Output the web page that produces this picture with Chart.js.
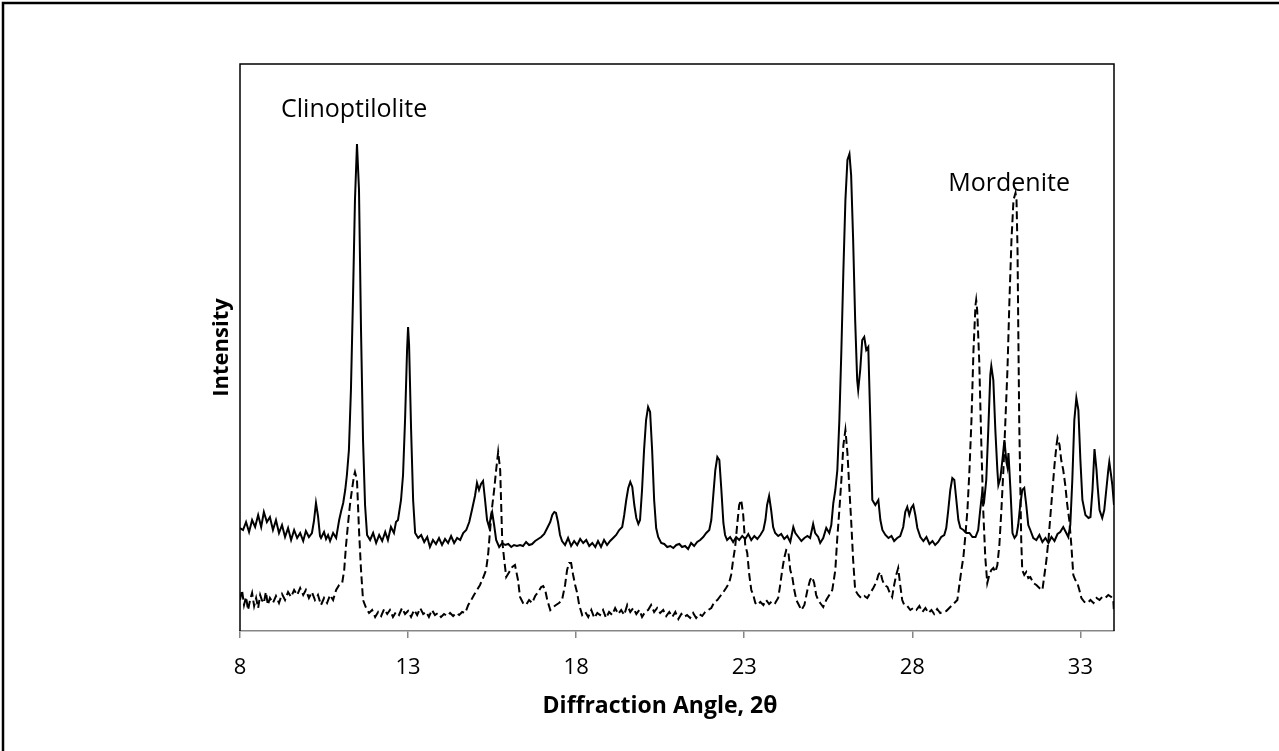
<!DOCTYPE html>
<html>
<head>
<meta charset="utf-8">
<script src="https://cdn.jsdelivr.net/npm/chart.js@4.4.1/dist/chart.umd.min.js"></script>
<style>
  html, body { margin: 0; padding: 0; background: #fff; overflow: hidden; }
  canvas { display: block; }
</style>
</head>
<body>
<canvas id="c" width="1279" height="751"></canvas>
<script>
// ---- data: [diffraction angle 2θ, intensity (arbitrary units)] ----
const clinoptiloliteData = [
[8.00,103],[8.09,101],[8.18,109],[8.27,99],[8.36,111],[8.45,104],[8.54,116],[8.63,104],[8.71,119],[8.80,109],[8.89,114],[8.98,101],[9.07,111],[9.16,98],[9.25,106],[9.34,94],[9.43,103],[9.52,91],[9.61,101],[9.70,93],[9.79,98],[9.88,90],[9.96,100],[10.05,94],[10.14,98],[10.20,110],[10.26,128],[10.32,115],[10.38,95],[10.41,93],[10.50,99],[10.56,92],[10.62,96],[10.68,90],[10.77,98],[10.86,93],[10.95,111],[11.01,120],[11.07,128],[11.13,141],[11.18,156],[11.24,181],[11.30,241],[11.36,331],[11.42,431],[11.48,487],[11.54,441],[11.60,301],[11.66,191],[11.72,126],[11.78,96],[11.87,91],[11.96,98],[12.05,88],[12.14,96],[12.23,90],[12.32,99],[12.40,91],[12.49,104],[12.58,98],[12.64,109],[12.70,111],[12.79,131],[12.85,156],[12.91,211],[12.97,281],[13.00,304],[13.03,286],[13.09,201],[13.15,131],[13.21,98],[13.30,93],[13.39,96],[13.48,89],[13.57,94],[13.65,84],[13.74,91],[13.83,87],[13.92,93],[14.01,86],[14.10,92],[14.19,88],[14.28,95],[14.37,88],[14.46,93],[14.55,91],[14.64,98],[14.73,101],[14.82,109],[14.90,121],[14.99,135],[15.05,148],[15.11,141],[15.17,147],[15.23,150],[15.29,131],[15.35,111],[15.41,104],[15.47,116],[15.50,119],[15.56,106],[15.62,91],[15.71,84],[15.80,88],[15.89,86],[15.98,87],[16.07,84],[16.15,86],[16.24,85],[16.33,86],[16.42,85],[16.51,89],[16.60,86],[16.69,87],[16.78,90],[16.87,92],[16.96,94],[17.05,97],[17.14,103],[17.23,109],[17.29,116],[17.35,119],[17.40,118],[17.46,109],[17.52,96],[17.58,90],[17.67,86],[17.76,93],[17.85,85],[17.94,90],[18.03,86],[18.12,92],[18.21,88],[18.30,91],[18.39,85],[18.48,88],[18.57,84],[18.65,90],[18.74,84],[18.83,91],[18.92,86],[19.01,90],[19.10,93],[19.19,96],[19.28,101],[19.37,104],[19.43,116],[19.49,131],[19.55,143],[19.61,149],[19.67,144],[19.73,126],[19.79,113],[19.85,107],[19.90,111],[19.96,141],[20.02,181],[20.08,211],[20.14,224],[20.20,219],[20.26,181],[20.32,131],[20.38,103],[20.44,94],[20.53,88],[20.62,87],[20.71,84],[20.80,85],[20.89,83],[20.98,86],[21.07,87],[21.15,84],[21.24,85],[21.33,82],[21.42,88],[21.51,85],[21.60,89],[21.69,91],[21.78,94],[21.87,98],[21.96,101],[22.02,111],[22.08,136],[22.14,161],[22.20,174],[22.26,171],[22.32,141],[22.38,108],[22.43,96],[22.49,91],[22.58,94],[22.67,89],[22.76,94],[22.85,91],[22.94,95],[23.03,92],[23.12,97],[23.21,91],[23.30,95],[23.39,92],[23.48,96],[23.57,101],[23.63,111],[23.68,126],[23.74,135],[23.80,121],[23.86,104],[23.92,98],[24.01,95],[24.10,97],[24.19,92],[24.28,95],[24.37,89],[24.46,104],[24.52,98],[24.61,94],[24.70,90],[24.79,93],[24.88,95],[24.96,93],[25.05,107],[25.11,98],[25.20,94],[25.26,88],[25.35,93],[25.44,103],[25.53,98],[25.59,106],[25.65,128],[25.71,141],[25.77,161],[25.83,211],[25.89,281],[25.95,361],[26.01,431],[26.07,471],[26.13,477],[26.18,456],[26.24,391],[26.30,311],[26.36,251],[26.39,241],[26.45,261],[26.51,291],[26.57,294],[26.63,281],[26.69,284],[26.75,211],[26.81,131],[26.90,126],[26.99,131],[27.05,111],[27.11,101],[27.20,96],[27.29,93],[27.38,95],[27.46,90],[27.55,93],[27.64,95],[27.73,104],[27.79,119],[27.85,124],[27.91,116],[27.97,123],[28.03,126],[28.09,116],[28.15,103],[28.24,94],[28.33,90],[28.42,94],[28.51,87],[28.60,90],[28.68,86],[28.77,89],[28.86,94],[28.95,96],[29.01,103],[29.07,121],[29.13,141],[29.19,153],[29.25,151],[29.31,131],[29.37,111],[29.43,103],[29.52,101],[29.61,98],[29.70,98],[29.79,94],[29.88,94],[29.96,101],[30.02,121],[30.08,139],[30.14,131],[30.20,151],[30.26,201],[30.32,256],[30.35,265],[30.41,251],[30.47,201],[30.53,161],[30.56,146],[30.62,153],[30.68,171],[30.74,191],[30.80,169],[30.83,164],[30.86,178],[30.92,141],[30.98,98],[31.04,93],[31.10,96],[31.15,106],[31.21,126],[31.27,141],[31.33,143],[31.39,126],[31.45,106],[31.51,101],[31.60,93],[31.69,91],[31.78,96],[31.87,89],[31.96,93],[32.05,88],[32.14,94],[32.23,90],[32.32,97],[32.40,99],[32.49,104],[32.58,98],[32.64,94],[32.70,106],[32.76,151],[32.82,211],[32.88,233],[32.94,221],[33.00,171],[33.06,131],[33.15,116],[33.24,113],[33.30,114],[33.36,141],[33.42,182],[33.48,161],[33.51,146],[33.57,121],[33.65,113],[33.71,121],[33.77,141],[33.83,161],[33.86,169],[33.92,154],[33.95,146],[34.00,126]
];

const mordeniteData = [
[8.00,31],[8.06,41],[8.12,26],[8.18,34],[8.24,21],[8.30,31],[8.36,38],[8.42,25],[8.48,33],[8.54,23],[8.60,36],[8.65,31],[8.71,28],[8.77,39],[8.83,26],[8.89,33],[8.98,28],[9.07,35],[9.16,28],[9.25,37],[9.34,31],[9.43,39],[9.52,34],[9.61,41],[9.70,36],[9.79,43],[9.88,36],[9.96,41],[10.05,33],[10.14,39],[10.23,31],[10.32,36],[10.41,26],[10.50,33],[10.59,28],[10.68,36],[10.77,31],[10.86,41],[10.95,46],[11.04,48],[11.10,61],[11.15,84],[11.21,106],[11.27,126],[11.33,141],[11.39,155],[11.42,159],[11.48,151],[11.54,101],[11.60,61],[11.66,31],[11.75,23],[11.84,18],[11.93,21],[12.02,14],[12.11,19],[12.20,15],[12.29,22],[12.38,17],[12.46,21],[12.55,14],[12.64,19],[12.73,16],[12.82,23],[12.91,17],[13.00,20],[13.09,14],[13.18,21],[13.27,16],[13.36,23],[13.45,17],[13.54,19],[13.62,14],[13.71,21],[13.80,16],[13.89,18],[13.98,14],[14.07,17],[14.16,15],[14.25,18],[14.34,15],[14.43,18],[14.52,16],[14.61,19],[14.70,18],[14.79,26],[14.88,31],[14.96,36],[15.05,41],[15.14,46],[15.23,53],[15.32,61],[15.38,76],[15.44,101],[15.50,124],[15.56,141],[15.62,161],[15.68,179],[15.74,161],[15.80,91],[15.86,71],[15.92,54],[16.01,59],[16.10,64],[16.18,66],[16.27,51],[16.33,34],[16.42,28],[16.51,26],[16.60,31],[16.69,28],[16.78,35],[16.87,39],[16.96,44],[17.02,45],[17.08,41],[17.14,31],[17.23,21],[17.32,24],[17.40,26],[17.49,28],[17.58,31],[17.67,46],[17.73,61],[17.79,68],[17.85,68],[17.91,56],[17.97,46],[18.03,38],[18.09,26],[18.18,16],[18.27,19],[18.36,14],[18.45,21],[18.54,13],[18.63,18],[18.71,16],[18.80,21],[18.89,13],[18.98,19],[19.07,16],[19.16,23],[19.25,17],[19.34,21],[19.43,16],[19.52,26],[19.61,19],[19.70,23],[19.79,17],[19.88,21],[19.96,14],[20.05,19],[20.14,21],[20.23,26],[20.32,19],[20.41,23],[20.50,18],[20.59,21],[20.68,15],[20.77,19],[20.86,14],[20.95,19],[21.04,12],[21.13,17],[21.21,14],[21.30,16],[21.39,13],[21.48,18],[21.57,13],[21.66,17],[21.75,15],[21.84,19],[21.93,21],[22.02,23],[22.11,29],[22.20,31],[22.29,35],[22.38,39],[22.46,43],[22.55,48],[22.61,56],[22.67,71],[22.73,84],[22.79,106],[22.85,126],[22.91,131],[22.97,116],[23.03,86],[23.09,78],[23.15,56],[23.21,41],[23.27,36],[23.33,28],[23.39,26],[23.48,29],[23.57,26],[23.65,31],[23.74,27],[23.83,30],[23.92,28],[24.01,33],[24.07,46],[24.13,61],[24.19,73],[24.25,81],[24.31,80],[24.37,61],[24.43,54],[24.49,41],[24.55,31],[24.61,27],[24.70,21],[24.79,26],[24.88,41],[24.96,51],[25.02,54],[25.08,48],[25.14,36],[25.20,31],[25.26,28],[25.35,24],[25.44,31],[25.53,36],[25.62,41],[25.71,61],[25.77,94],[25.83,121],[25.89,151],[25.95,186],[26.01,201],[26.07,178],[26.13,141],[26.18,111],[26.24,71],[26.30,41],[26.39,36],[26.48,33],[26.57,35],[26.66,33],[26.75,38],[26.84,43],[26.93,49],[26.99,56],[27.05,59],[27.11,51],[27.17,46],[27.26,44],[27.32,39],[27.40,34],[27.46,46],[27.52,56],[27.58,63],[27.64,46],[27.70,31],[27.76,26],[27.85,25],[27.94,21],[28.03,23],[28.12,21],[28.21,25],[28.30,19],[28.39,23],[28.48,18],[28.57,21],[28.65,17],[28.74,22],[28.83,18],[28.92,19],[29.01,20],[29.10,23],[29.19,26],[29.28,29],[29.34,31],[29.40,46],[29.46,61],[29.52,74],[29.58,96],[29.64,121],[29.70,161],[29.76,211],[29.82,281],[29.88,326],[29.90,331],[29.93,321],[29.99,271],[30.05,191],[30.11,121],[30.17,74],[30.23,48],[30.29,56],[30.35,61],[30.41,63],[30.47,59],[30.53,66],[30.59,86],[30.65,121],[30.71,161],[30.77,211],[30.83,261],[30.89,331],[30.95,391],[31.01,431],[31.07,438],[31.10,431],[31.13,381],[31.15,311],[31.18,211],[31.21,151],[31.24,91],[31.27,61],[31.33,56],[31.39,59],[31.45,53],[31.51,54],[31.60,48],[31.69,46],[31.78,43],[31.87,41],[31.93,56],[31.99,71],[32.05,91],[32.11,116],[32.17,141],[32.23,166],[32.29,186],[32.32,193],[32.38,186],[32.43,171],[32.49,161],[32.55,146],[32.61,126],[32.67,111],[32.73,86],[32.79,56],[32.85,51],[32.91,48],[32.97,41],[33.03,33],[33.12,29],[33.21,28],[33.30,31],[33.39,28],[33.48,33],[33.57,31],[33.65,34],[33.74,33],[33.83,36],[33.92,34],[33.98,31],[34.00,18]
];

const tickValues = [8, 13, 18, 23, 28, 33];
const xAxisTitle = 'Diffraction Angle, 2θ';
const yAxisTitle = 'Intensity';
const peakLabels = ['Clinoptilolite', 'Mordenite'];
const peakLabelAngles = [9.22, 29.07];
const peakLabelIntensities = [514, 440];

Chart.defaults.font.family = "'Open Sans', 'DejaVu Sans', sans-serif";
Chart.defaults.color = '#000';

const framePlugin = {
  id: 'frame',
  afterDraw(chart) {
    const {ctx, chartArea: a} = chart;
    ctx.save();
    ctx.strokeStyle = '#000';
    ctx.lineWidth = 1.5;
    ctx.beginPath();
    ctx.moveTo(a.left, a.bottom);
    ctx.lineTo(a.left, a.top);
    ctx.lineTo(a.right, a.top);
    ctx.lineTo(a.right, a.bottom);
    ctx.stroke();
    // outer figure border (left and top visible)
    ctx.lineWidth = 2.5;
    ctx.strokeRect(3, 3, chart.width + 20, chart.height + 20);
    // x axis title, centred as in the original figure
    ctx.fillStyle = '#000';
    ctx.font = "bold 23px 'Open Sans', sans-serif";
    ctx.textAlign = 'center';
    ctx.textBaseline = 'middle';
    ctx.fillText(xAxisTitle, 660, 706);
    ctx.restore();
  }
};

const labelPlugin = {
  id: 'peakLabels',
  afterDraw(chart) {
    const {ctx, scales: {x, y}} = chart;
    ctx.save();
    ctx.fillStyle = '#000';
    ctx.font = "25px 'Open Sans', sans-serif";
    ctx.textAlign = 'left';
    ctx.textBaseline = 'alphabetic';
    peakLabels.forEach((t, i) => {
      ctx.fillText(t, x.getPixelForValue(peakLabelAngles[i]), y.getPixelForValue(peakLabelIntensities[i]));
    });
    ctx.restore();
  }
};

new Chart(document.getElementById('c'), {
  type: 'line',
  data: {
    datasets: [
      {
        label: 'Mordenite',
        data: mordeniteData.map(([x, y]) => ({x, y})),
        borderColor: '#000',
        borderWidth: 2,
        borderDash: [8, 4],
        pointRadius: 0,
        fill: false,
        tension: 0
      },
      {
        label: 'Clinoptilolite',
        data: clinoptiloliteData.map(([x, y]) => ({x, y})),
        borderColor: '#000',
        borderWidth: 2,
        pointRadius: 0,
        fill: false,
        tension: 0
      }
    ]
  },
  options: {
    responsive: false,
    animation: false,
    devicePixelRatio: 1,
    parsing: false,
    layout: { padding: { left: 0, top: 64, right: 165, bottom: 0 } },
    plugins: { legend: { display: false }, tooltip: { enabled: false } },
    scales: {
      x: {
        type: 'linear',
        min: 8,
        max: 34,
        afterBuildTicks: s => { s.ticks = tickValues.map(v => ({value: v})); },
        afterFit: s => { s.height = 120; },
        grid: { display: true, drawOnChartArea: false, drawTicks: true, tickLength: 7, color: '#868686', lineWidth: 1.5 },
        border: { display: true, color: '#868686', width: 1.5 },
        ticks: { color: '#000', font: { size: 22 }, padding: 17, maxRotation: 0, autoSkip: false },
        title: { display: false }
      },
      y: {
        type: 'linear',
        min: 0,
        max: 567,
        afterFit: s => { s.width = 240; },
        ticks: { display: false },
        grid: { display: false },
        border: { display: false },
        title: { display: true, text: yAxisTitle, color: '#000', font: { size: 22, weight: 'bold', lineHeight: 1.2 }, padding: { top: 209, bottom: 0 } }
      }
    }
  },
  plugins: [framePlugin, labelPlugin]
});
</script>
</body>
</html>
